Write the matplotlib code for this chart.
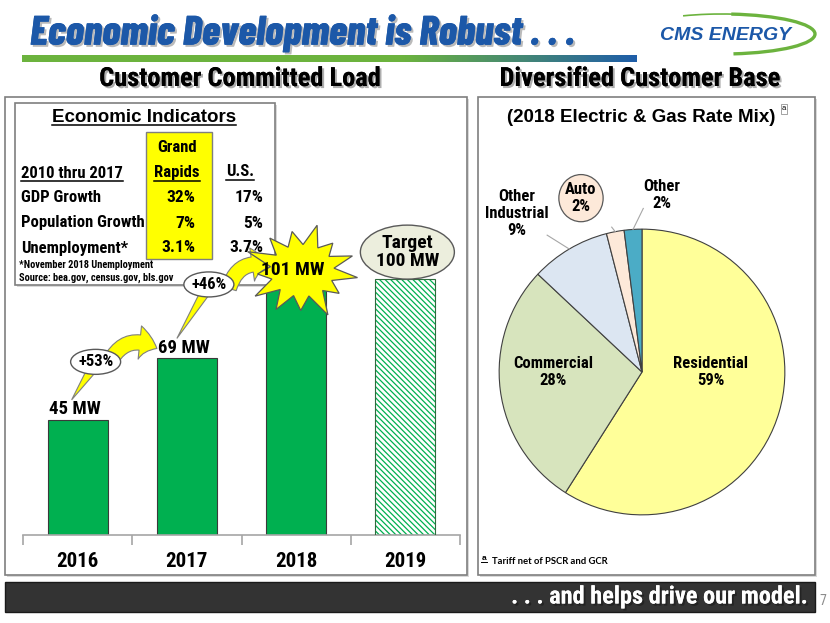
import numpy as np
import matplotlib
matplotlib.use('Agg')
import matplotlib.pyplot as plt
from matplotlib.patches import Rectangle, Ellipse, Polygon, FancyArrowPatch, Arc
import matplotlib.patheffects as pe

# ---- data ----
years = ['2016', '2017', '2018', '2019']
load_mw = [45, 69, 101, 100]
load_labels = ['45 MW', '69 MW', '101 MW', 'Target\n100 MW']
growth = ['+53%', '+46%']

ind_rows = ['GDP Growth', 'Population Growth', 'Unemployment*']
grand_rapids = ['32%', '7%', '3.1%']
us_vals = ['17%', '5%', '3.7%']

mix_labels = ['Residential', 'Commercial', 'Other\nIndustrial', 'Auto', 'Other']
mix_pct = [59, 28, 9, 2, 2]
mix_colors = ['#ffff99', '#d7e4bd', '#dce6f2', '#fde9d9', '#4bacc6']

NARROW = ['Roboto Condensed', 'Archivo Narrow', 'Liberation Sans', 'DejaVu Sans']
SANS = ['Liberation Sans', 'DejaVu Sans']
NB = dict(family=NARROW, fontweight='bold')
GREEN = '#00b050'
BLUE = '#1c58a8'

W, H = 830, 623
fig = plt.figure(figsize=(8.3, 6.23), dpi=100)
fig.patch.set_facecolor('white')
r = fig.canvas.get_renderer()

# background layer in pixel coords (y down)
bg = fig.add_axes([0, 0, 1, 1], zorder=0)
bg.set_xlim(0, W); bg.set_ylim(H, 0); bg.axis('off')

# title, sized to the slide's width
tt = bg.text(30, 33, 'Economic Development is Robust . . .', color=BLUE, fontsize=27,
             family=['Barlow Condensed'] + NARROW, fontweight=800, style='italic', ha='left', va='center',
             path_effects=[pe.withSimplePatchShadow(offset=(1.5, -1.5), shadow_rgbFace='#8c8c8c', alpha=0.6),
                           pe.Normal()])
tt.set_fontsize(27 * 545 / tt.get_window_extent(renderer=r).width)

# green -> blue rule under the title
grad = np.linspace(0, 1, 300)
cmap = matplotlib.colors.LinearSegmentedColormap.from_list(
    'rule', [(0, '#6cb33e'), (0.62, '#6cb33e'), (1, '#1f5ea8')])
bg.imshow(grad[None, :], cmap=cmap, aspect='auto', extent=(22, 636, 62, 55), zorder=2)

# logo
bg.add_patch(Arc((722, 34), 186, 40, theta1=205, theta2=300, color='#6cb33e', lw=1.2))
bg.add_patch(Arc((722, 34), 186, 40, theta1=295, theta2=60, color='#6cb33e', lw=2.4))
bg.text(726, 35, 'CMS ENERGY', color=BLUE, fontsize=14, fontweight='bold', style='italic',
        family=SANS, ha='center', va='center')

# section headings
shadow = [pe.withSimplePatchShadow(offset=(1.5, -1.5), shadow_rgbFace='#8c8c8c', alpha=0.7), pe.Normal()]
bg.text(240, 79, 'Customer Committed Load', fontsize=19, ha='center', va='center',
        path_effects=shadow, **NB)
bg.text(640, 79, 'Diversified Customer Base', fontsize=19, ha='center', va='center',
        path_effects=shadow, **NB)

# panel frames
for x0, x1 in [(5, 467), (478, 815)]:
    bg.add_patch(Rectangle((x0 + 2, 99), x1 - x0, 478, fc='#d9d9d9', ec='none'))
    bg.add_patch(Rectangle((x0, 97), x1 - x0, 478, fc='white', ec='#7f7f7f', lw=1.2))

# bottom banner
bg.add_patch(Rectangle((5, 582), 810, 30, fc='#333333', ec='#1a1a1a', lw=1))
bg.text(807, 597, '. . . and helps drive our model.', color='white', fontsize=17.5, ha='right', va='center',
        path_effects=[pe.withSimplePatchShadow(offset=(1.5, -1.5), shadow_rgbFace='black'), pe.Normal()],
        **NB)
bg.text(823, 601, '7', color='#8c8c8c', fontsize=10, family=NARROW, ha='center', va='center')

# pie heading + footnote
bg.text(641, 117, '(2018 Electric & Gas Rate Mix)', fontsize=13.5, fontweight='bold', family=SANS,
        ha='center', va='center')
bg.text(784, 109, 'a', fontsize=5.5, family=SANS, ha='center', va='center',
        bbox=dict(boxstyle='square,pad=0.15', fc='white', ec='#7f7f7f', lw=0.5))
bg.text(484, 558, 'a', fontsize=6, fontweight='bold', family=SANS, ha='center', va='center')
bg.plot([481, 487], [562, 562], color='black', lw=0.7)
bg.text(492, 561, 'Tariff net of PSCR and GCR', fontsize=6.8, fontweight='bold', family=['Lato'] + SANS,
        ha='left', va='center')

# ---- bar chart ----
ax = fig.add_axes([23 / W, (H - 535) / H, 437 / W, 435 / H], zorder=1)
ax.patch.set_alpha(0)
xpos = np.arange(len(years))
ax.bar(xpos[:3], load_mw[:3], width=0.55, color=GREEN, edgecolor='#3a3a3a', lw=0.8, zorder=2)
plt.rcParams['hatch.linewidth'] = 0.9
ax.bar(xpos[3], load_mw[3], width=0.55, color='white', edgecolor=GREEN, hatch='\\' * 6, lw=0, zorder=2)
ax.bar(xpos[3], load_mw[3], width=0.55, fill=False, edgecolor='#2e6b3c', lw=0.8, zorder=3)
ax.set_xlim(-0.5, 3.5)
ax.set_ylim(0, 170)
for s in ['top', 'left', 'right']:
    ax.spines[s].set_visible(False)
ax.spines['bottom'].set_color('#a6a6a6')
ax.spines['bottom'].set_linewidth(1.2)
ax.set_yticks([])
ax.set_xticks(xpos, years, fontfamily=NARROW, fontweight='bold', fontsize=15)
ax.tick_params(axis='x', which='major', length=0, pad=12)
ax.set_xticks(np.arange(-0.5, 4, 1), minor=True)
ax.tick_params(axis='x', which='minor', length=7, color='#a6a6a6', width=1.2)
for i in range(2):
    ax.annotate(load_labels[i], (xpos[i], load_mw[i]), xytext=(-2, 1), textcoords='offset points',
                ha='center', va='bottom', fontsize=13.5, **NB)


def px(x, y):
    X, Y = ax.transData.transform((x, y))
    return np.array([X, H - Y])


# ---- overlay: indicator table, callouts ----
ov = fig.add_axes([0, 0, 1, 1], zorder=5)
ov.set_xlim(0, W); ov.set_ylim(H, 0); ov.axis('off')
ov.patch.set_alpha(0)


def underline(t, pad=0.0):
    b = t.get_window_extent(renderer=r)
    ov.plot([b.x0, b.x1], [H - b.y0 + pad] * 2, color='black', lw=1.1)


ov.add_patch(Rectangle((17, 105), 260, 182, fc='#d9d9d9', ec='none'))
ov.add_patch(Rectangle((15, 103), 260, 182, fc='white', ec='#7f7f7f', lw=1.2))
ov.add_patch(Rectangle((146, 132), 66, 127, fc='#ffff00', ec='#7f7f7f', lw=1))
t = ov.text(144, 117, 'Economic Indicators', fontsize=13.5, fontweight='bold', family=SANS,
            ha='center', va='center')
underline(t, -1)
ov.text(177, 148, 'Grand', fontsize=12, ha='center', va='center', **NB)
underline(ov.text(177, 173, 'Rapids', fontsize=12, ha='center', va='center', **NB))
underline(ov.text(21, 173, '2010 thru 2017', fontsize=12, ha='left', va='center', **NB))
underline(ov.text(240, 172, 'U.S.', fontsize=12, ha='center', va='center', **NB))
for k, (name, gr, us) in enumerate(zip(ind_rows, grand_rapids, us_vals)):
    y = 198 + 25 * k
    ov.text(21, y, name, fontsize=12, ha='left', va='center', **NB)
    ov.text(195, y, gr, fontsize=12.5, ha='right', va='center', **NB)
    ov.text(263, y, us, fontsize=12.5, ha='right', va='center', **NB)
ov.text(19, 265, '*November 2018 Unemployment', fontsize=7.5, ha='left', va='center', **NB)
ov.text(19, 278, 'Source: bea.gov, census.gov, bls.gov', fontsize=7.5, ha='left', va='center', **NB)

b0, b1, b2, b3 = (px(i, v) for i, v in zip(xpos, load_mw))

# curved yellow arrows between bars (arching upward)
for s, e in [(b0 + (32, -58), b1 + (-30, -10)), (b1 + (42, -70), b2 + (-26, -10))]:
    ov.add_patch(FancyArrowPatch(tuple(s), tuple(e), connectionstyle='arc3,rad=-0.5',
                                 arrowstyle='simple,head_length=13,head_width=24,tail_width=11',
                                 mutation_scale=1, shrinkA=0, shrinkB=0,
                                 fc='#ffff00', ec='#7f7f7f', lw=0.8, zorder=3))

# growth ovals with tails
for c, tip, lab in [(b0 + (18, -58), b0 + (-6, -20), growth[0]),
                    (b1 + (22, -74), b1 + (-10, -20), growth[1])]:
    ov.add_patch(Polygon([c + (-8, 6), c + (2, 8), tip], closed=True, fc='#ffff00', ec='#7f7f7f',
                         lw=0.8, zorder=4))
    ov.add_patch(Ellipse(tuple(c), 50, 25, fc='white', ec='#595959', lw=1, zorder=5))
    ov.text(c[0], c[1], lab, fontsize=12, ha='center', va='center', zorder=6, **NB)

# starburst on 2018
sc = b2 + (6, -6)
spikes = [1.0, 0.82, 1.05, 0.85, 0.95, 1.0, 0.8, 1.05, 0.9, 0.85, 1.0, 0.8, 0.95]
n = len(spikes)
pts = []
for k, f in enumerate(spikes):
    a_out = 2 * np.pi * k / n + 0.15
    a_in = 2 * np.pi * (k + 0.5) / n + 0.15
    pts.append(sc + (56 * f * np.cos(a_out), 47 * f * np.sin(a_out)))
    pts.append(sc + (32 * np.cos(a_in), 26 * np.sin(a_in)))
ov.add_patch(Polygon(pts, closed=True, fc='#ffff00', ec='#595959', lw=0.9, zorder=7))
ov.text(sc[0] - 9, sc[1] - 1, load_labels[2], fontsize=14, ha='center', va='center', zorder=8, **NB)

# target bubble on 2019
tc = b3 + (2, -27)
ov.add_patch(Ellipse(tuple(tc), 94, 54, fc='#eceedd', ec='#595959', lw=1, zorder=4))
ov.text(tc[0], tc[1], load_labels[3], fontsize=14, ha='center', va='center', linespacing=1.05,
        zorder=5, **NB)

# ---- pie ----
ax2 = fig.add_axes([(642 - 150) / W, (H - 372 - 150) / H, 300 / W, 300 / H], zorder=1)
ax2.pie(mix_pct, colors=mix_colors, startangle=90, counterclock=False,
        wedgeprops=dict(edgecolor='#404040', lw=0.8))
ax2.set_xlim(-1.05, 1.05); ax2.set_ylim(-1.05, 1.05)
ax2.set_aspect('equal')
ax2.axis('off')

cum = np.cumsum([0] + mix_pct[:-1])
mid = np.deg2rad(90 - 3.6 * (cum + np.array(mix_pct) / 2))
lab_pos = [(0.48, 0.0), (-0.62, 0.0), (-0.874, 1.11), (-0.427, 1.217), (0.14, 1.24)]
leader_from = [None, None, (-0.664, 0.958), (-0.212, 1.014), (0.009, 1.145)]
for k, (lab, p) in enumerate(zip(mix_labels, mix_pct)):
    ax2.text(lab_pos[k][0], lab_pos[k][1], f'{lab}\n{p}%', fontsize=12, ha='center', va='center',
             linespacing=1.2, zorder=5, **NB)
    if leader_from[k] is not None:
        ax2.plot([leader_from[k][0], np.cos(mid[k])], [leader_from[k][1], np.sin(mid[k])],
                 color='#a6a6a6', lw=0.8, clip_on=False)
ax2.add_patch(Ellipse(lab_pos[3], 0.31, 0.33, fc=mix_colors[3], ec='#595959', lw=0.9,
                      clip_on=False, zorder=4))

fig.savefig('out.png', dpi=100)
